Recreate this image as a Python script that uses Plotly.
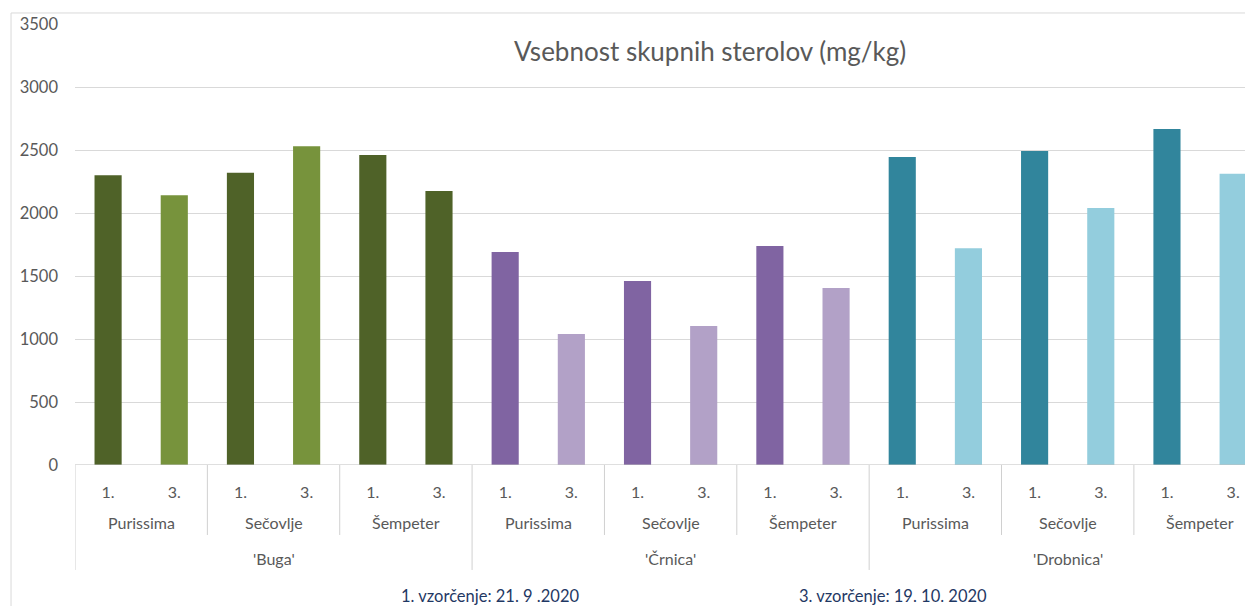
import plotly.graph_objects as go

# sorte, lokacije, vzorčenja
sorte = ["'Buga'", "'Črnica'", "'Drobnica'"]
lokacije = ["Purissima", "Sečovlje", "Šempeter"]
vzorcenja = ["1.", "3."]

# vsebnost skupnih sterolov (mg/kg), po sorti -> lokacija -> (1., 3.)
buga = [2300, 2140, 2320, 2530, 2460, 2175]
crnica = [1690, 1040, 1460, 1103, 1738, 1405]
drobnica = [2444, 1720, 2492, 2040, 2667, 2312]

barve_buga = ["#4F6228", "#77933C", "#4F6228", "#77933C", "#4F6228", "#4F6228"]
barve_crnica = ["#8064A2", "#B2A1C7"] * 3
barve_drobnica = ["#31859C", "#93CDDD"] * 3

vrednosti = buga + crnica + drobnica
barve = barve_buga + barve_crnica + barve_drobnica
x = list(range(len(vrednosti)))
ticktext = vzorcenja * 9

siva = "#595959"
font = "Lato, 'Open Sans', sans-serif"

fig = go.Figure()
fig.add_trace(go.Bar(x=x, y=vrednosti, marker=dict(color=barve, line=dict(width=0)),
                     width=0.41, showlegend=False))

# stran ima 8 px roba, zato je slika 1245x598
fig.update_layout(
    width=1245, height=598,
    margin=dict(l=67, r=0, t=16, b=141),
    paper_bgcolor="white", plot_bgcolor="white",
    font=dict(family=font, color=siva),
    title=dict(text="Vsebnost skupnih sterolov (mg/kg)", x=0.564, xanchor="center",
               y=0.926, yanchor="middle", font=dict(size=26, color=siva, family=font)),
)
fig.update_xaxes(range=[-0.5, 17.3], tickvals=x, ticktext=ticktext, ticks="",
                 tickfont=dict(size=16, color=siva), showgrid=False,
                 showline=False, zeroline=False, ticklabelstandoff=16)
fig.update_yaxes(range=[0, 3500], dtick=500, showgrid=True, gridcolor="#D9D9D9",
                 gridwidth=1, tickfont=dict(size=16.5, color=siva), zeroline=False,
                 showline=False, ticklabelstandoff=16)

# os x
fig.add_shape(type="line", xref="paper", yref="y", x0=0, x1=1, y0=0, y1=0,
              line=dict(color="#BFBFBF", width=1))

# ločnice med kategorijami
for i in range(len(sorte)):
    for j in range(len(lokacije)):
        start = i * 6 + j * 2 - 0.5
        dolga = j == 0
        fig.add_shape(type="line", xref="x", yref="paper", x0=start, x1=start,
                      y0=0, y1=-0.238 if dolga else -0.1587,
                      line=dict(color="#D0D0D0", width=1))
        fig.add_annotation(x=start + 1, y=-0.1315, xref="x", yref="paper",
                           xanchor="center", yanchor="middle",
                           text=lokacije[j], showarrow=False,
                           font=dict(size=16, color=siva))
    fig.add_annotation(x=i * 6 + 2.5, y=-0.211, xref="x", yref="paper",
                       xanchor="center", yanchor="middle",
                       text=sorte[i], showarrow=False, font=dict(size=16, color=siva))

# okvir grafikona
fig.add_shape(type="line", xref="paper", yref="paper", x0=-0.0543, x1=1.1,
              y0=1.025, y1=1.025, line=dict(color="#D9D9D9", width=1))
fig.add_shape(type="line", xref="paper", yref="paper", x0=-0.0543, x1=-0.0543,
              y0=1.025, y1=-0.5, line=dict(color="#D9D9D9", width=1))

# opombe o datumih vzorčenja
fig.add_annotation(x=0.352, y=-0.297, xref="paper", yref="paper",
                   xanchor="center", yanchor="middle",
                   text="1. vzorčenje: 21. 9 .2020", showarrow=False,
                   font=dict(size=16.5, color="#1F3864"))
fig.add_annotation(x=0.694, y=-0.297, xref="paper", yref="paper",
                   xanchor="center", yanchor="middle",
                   text="3. vzorčenje: 19. 10. 2020", showarrow=False,
                   font=dict(size=16.5, color="#1F3864"))

fig.write_html("out.html")
